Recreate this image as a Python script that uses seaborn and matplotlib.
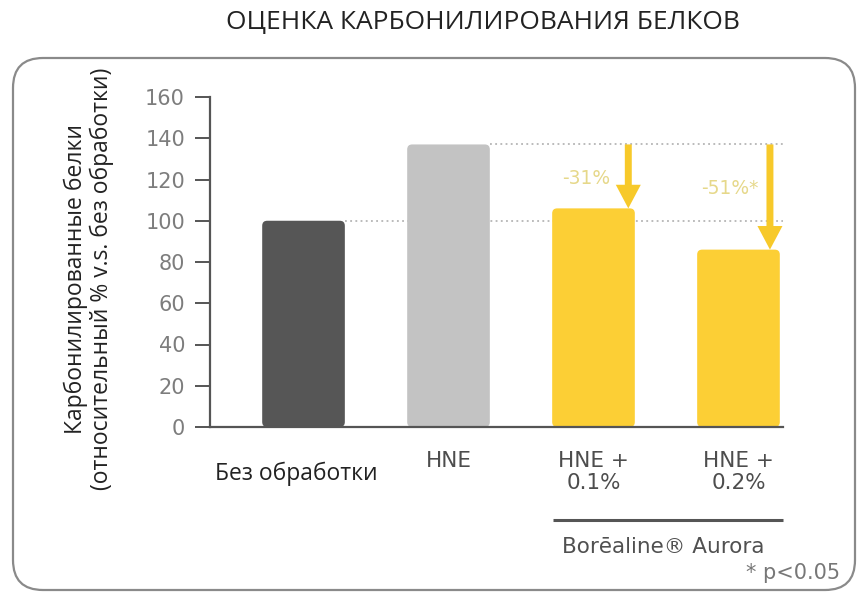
import matplotlib
matplotlib.use('Agg')
import matplotlib.pyplot as plt
import seaborn as sns
import pandas as pd
from matplotlib.patches import FancyBboxPatch
from matplotlib.transforms import IdentityTransform

# data
categories = ['Без обработки', 'HNE', 'HNE + 0.1%', 'HNE + 0.2%']
values = [100, 137, 106, 86]
bar_colors = ['#565656', '#c3c3c3', '#fccf35', '#fccf35']
tick_labels = ['', 'HNE', 'HNE +\n0.1%', 'HNE +\n0.2%']
reductions = ['-31%', '-51%*']
yticks = [0, 20, 40, 60, 80, 100, 120, 140, 160]

W, H = 858, 592
fig = plt.figure(figsize=(W / 100, H / 100), dpi=100)
fig.patch.set_facecolor('white')

sns.set_style('white')

# axes placed in pixel terms
L, R, B, T = 210, 783, 427, 97
ax = fig.add_axes([L / W, 1 - B / H, (R - L) / W, (B - T) / H])

df = pd.DataFrame({'cat': categories, 'val': values})
sns.barplot(data=df, x='cat', y='val', hue='cat', palette=bar_colors,
            width=0.57, legend=False, ax=ax, saturation=1, zorder=2)

ax.set_xlim(-0.645, 3.307)
ax.set_ylim(0, 160)

# slightly rounded bar corners
xunit = (R - L) / (3.307 + 0.645)
yunit = (B - T) / 160
for p in list(ax.patches):
    x0, y0 = p.get_x(), p.get_y()
    w, h = p.get_width(), p.get_height()
    fc = p.get_facecolor()
    p.remove()
    rb = FancyBboxPatch((x0, y0), w, h, boxstyle='round,pad=0,rounding_size=%f' % (5 / xunit),
                        mutation_aspect=xunit / yunit, facecolor=fc, edgecolor='none', zorder=2)
    ax.add_patch(rb)

ax.set_yticks(yticks)
ax.set_yticklabels([str(v) for v in yticks], fontsize=15, color='#7d7d7d', family='DejaVu Sans')
ax.tick_params(axis='y', direction='out', length=11, width=1.4, color='#555555', pad=7, left=True)
ax.tick_params(axis='x', bottom=False, labelbottom=False)
ax.set_xlabel('')
ax.set_ylabel('')
for s in ['top', 'right']:
    ax.spines[s].set_visible(False)
for s in ['left', 'bottom']:
    ax.spines[s].set_color('#555555')
    ax.spines[s].set_linewidth(1.6)

# dotted reference lines
ax.hlines(values[1], 1.285, 3.307, colors='#a8a8a8', linestyles=(0, (1.2, 2.2)), lw=1.1, zorder=1)
ax.hlines(values[0], 0.285, 3.307, colors='#a8a8a8', linestyles=(0, (1.2, 2.2)), lw=1.1, zorder=1)

# arrows
arrow_x = [2.24, 3.217]
for xa, v in zip(arrow_x, values[2:]):
    ax.annotate('', xy=(xa, v), xytext=(xa, values[1]),
                arrowprops=dict(facecolor='#f7c92a', edgecolor='none', width=5,
                                headwidth=18, headlength=17, shrink=0), zorder=3)

ax.text(1.948, 120.6, reductions[0], ha='center', va='center', fontsize=13.5,
        color='#e6d88a', family='DejaVu Sans')
ax.text(2.94, 115.7, reductions[1], ha='center', va='center', fontsize=13.5,
        color='#e6d88a', family='DejaVu Sans')

# category labels below axis
def yfrac(py):
    return (B - py) / (B - T)

tr = ax.get_xaxis_transform()
ax.text(-0.05, yfrac(474), categories[0], transform=tr, ha='center', va='center',
        fontsize=16.5, color='#222222', family='Open Sans')
for i in range(1, 4):
    ax.text(i, yfrac(451), tick_labels[i], transform=tr, ha='center', va='top',
            fontsize=15.5, color='#4d4d4d', family='DejaVu Sans', linespacing=1.15)

ax.plot([1.72, 3.307], [yfrac(520), yfrac(520)], transform=tr, color='#555555',
        lw=2.2, clip_on=False, solid_capstyle='butt')
ax.text(2.48, yfrac(547), 'Borēaline® Aurora', transform=tr, ha='center', va='center',
        fontsize=15.5, color='#505050', family='DejaVu Sans')
fig.text(840 / W, 1 - 573 / H, '* p<0.05', ha='right', va='center',
         fontsize=15, color='#777777', family='DejaVu Sans')

# y label
fig.text(89 / W, 1 - 279 / H,
         'Карбонилированные белки\n(относительный % v.s. без обработки)',
         rotation=90, ha='center', va='center', fontsize=16.5, color='#222222',
         family='Open Sans', linespacing=1.1)

# title
fig.text(483 / W, 1 - 23 / H, 'ОЦЕНКА КАРБОНИЛИРОВАНИЯ БЕЛКОВ', ha='center',
         va='center', fontsize=19, color='#222222', family='Open Sans')

# rounded frame
frame = FancyBboxPatch((13, H - 590), 842, 532,
                       boxstyle='round,pad=0,rounding_size=30',
                       transform=IdentityTransform(), fill=False,
                       edgecolor='#8a8a8a', lw=1.6)
fig.patches.append(frame)

fig.savefig('out.png', dpi=100)
